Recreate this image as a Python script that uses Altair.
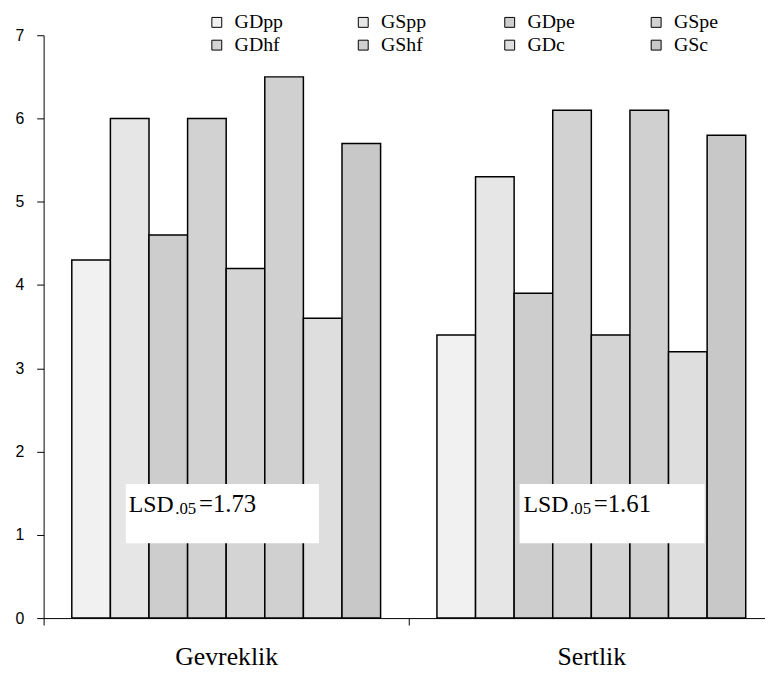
import altair as alt
import pandas as pd

categories = ["Gevreklik", "Sertlik"]
series = ["GDpp", "GSpp", "GDpe", "GSpe", "GDhf", "GShf", "GDc", "GSc"]
gevreklik_values = [4.3, 6.0, 4.6, 6.0, 4.2, 6.5, 3.6, 5.7]
sertlik_values = [3.4, 5.3, 3.9, 6.1, 3.4, 6.1, 3.2, 5.8]
lsd_prefix = "LSD"
lsd_sub = ".05"
lsd_values = ["=1.73", "=1.61"]
y_ticks = [0, 1, 2, 3, 4, 5, 6, 7]

fills = ["#f1f1f1", "#e6e6e6", "#cdcdcd", "#d2d2d2", "#d4d4d4", "#d0d0d0", "#dedede", "#c8c8c8"]

rows = []
for cat, vals in zip(categories, [gevreklik_values, sertlik_values]):
    for s, v in zip(series, vals):
        rows.append({"category": cat, "series": s, "value": v})
df = pd.DataFrame(rows)

SERIF = "Liberation Serif"
SANS = "Liberation Sans"

x_scale = alt.Scale(domain=categories, range=[0, 738], paddingInner=0, paddingOuter=0)
y_scale = alt.Scale(domain=[0, 7], nice=False, zero=True)

bars = alt.Chart(df).mark_bar(stroke="black", strokeWidth=1.5, opacity=1).encode(
    x=alt.X("category:N", sort=categories, scale=x_scale,
            axis=alt.Axis(title=None, labelAngle=0, labelFont=SERIF, labelFontSize=26,
                          labelColor="black", labelPadding=19, tickSize=7, tickColor="black",
                          tickWidth=1, domainColor="black", domainWidth=1, tickBand="extent",
                          labelLimit=0)),
    xOffset=alt.XOffset("series:N", sort=series,
                        scale=alt.Scale(paddingInner=0, paddingOuter=0.73)),
    y=alt.Y("value:Q", scale=y_scale,
            axis=alt.Axis(title=None, values=y_ticks, grid=False, labelFont=SANS,
                          labelFontSize=16, labelColor="black", labelPadding=13,
                          tickSize=7, tickColor="black", tickWidth=1,
                          domainColor="black", domainWidth=1, format="d")),
    color=alt.Color("series:N", sort=series,
                    scale=alt.Scale(domain=series, range=fills),
                    legend=alt.Legend(title=None, orient="none", legendX=165, legendY=-23,
                                      direction="horizontal", columns=4, symbolType="square",
                                      symbolSize=100, symbolStrokeColor="black",
                                      symbolStrokeWidth=1, symbolOpacity=1,
                                      labelFont=SERIF, labelFontSize=20, labelColor="black",
                                      labelOffset=8, columnPadding=71, rowPadding=3,
                                      gridAlign="all")),
)

ann_settings = [
    {"box": (0.225, 0.754), "dx": (86, 133, 157)},
    {"box": (0.3035, 0.810), "dx": (116, 163, 187)},
]

layers = [bars]
for cat, lsd, st in zip(categories, lsd_values, ann_settings):
    adf = pd.DataFrame({"category": [cat], "lsd": [lsd], "pre": [lsd_prefix], "sub": [lsd_sub]})
    base = alt.Chart(adf)
    box = base.mark_rect(fill="white", stroke=None).encode(
        x=alt.X("category:N", sort=categories, bandPosition=st["box"][0]),
        x2=alt.X2("category:N", bandPosition=st["box"][1]),
        y=alt.datum(1.61),
        y2=alt.datum(0.90),
    )
    t1 = base.mark_text(align="left", baseline="alphabetic", font=SERIF, fontSize=24,
                        color="black", dx=st["dx"][0]).encode(
        x=alt.X("category:N", sort=categories, bandPosition=0),
        y=alt.datum(1.28),
        text="pre:N",
    )
    t2 = base.mark_text(align="left", baseline="alphabetic", font=SERIF, fontSize=17,
                        color="black", dx=st["dx"][1], dy=3).encode(
        x=alt.X("category:N", sort=categories, bandPosition=0),
        y=alt.datum(1.28),
        text="sub:N",
    )
    t3 = base.mark_text(align="left", baseline="alphabetic", font=SERIF, fontSize=25,
                        color="black", dx=st["dx"][2]).encode(
        x=alt.X("category:N", sort=categories, bandPosition=0),
        y=alt.datum(1.28),
        text="lsd:N",
    )
    layers += [box, t1, t2, t3]

chart = alt.layer(*layers).properties(
    width=729,
    height=589,
    autosize=alt.AutoSizeParams(type="none"),
    padding={"left": 36, "top": 24, "right": 0, "bottom": 56},
    background="white",
).configure_view(stroke=None)

chart.save("out.html", embed_options={"renderer": "svg", "actions": False})
